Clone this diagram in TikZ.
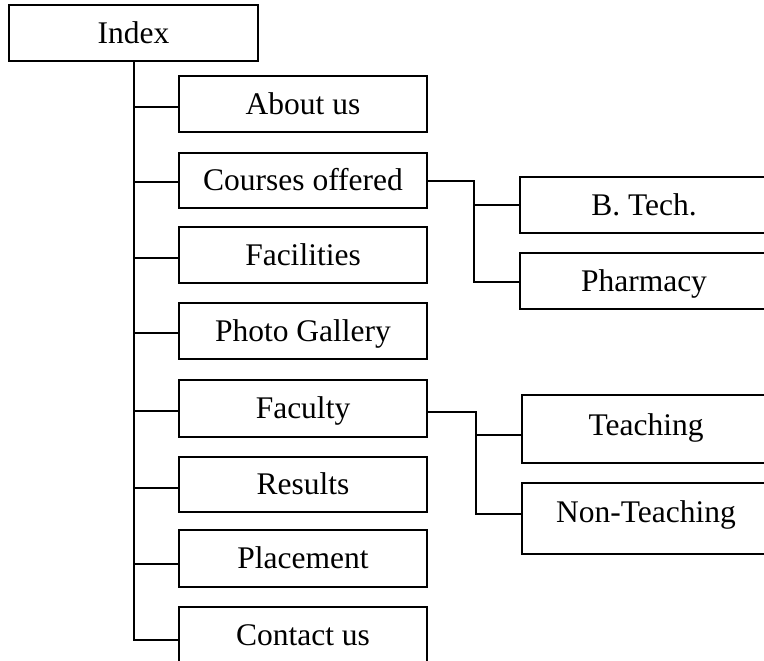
\documentclass[tikz,border=0pt]{standalone}
\usepackage{fontspec}
\setmainfont{Liberation Serif}
\begin{document}
\begin{tikzpicture}[x=1pt,y=-1pt,line width=2pt,
  box/.style={draw,rectangle,minimum width=248pt,minimum height=56pt,inner sep=0pt,
    font=\fontsize{31.5}{36}\selectfont,text height=20.5pt,text depth=0pt},
  link/.style={line width=2pt}]
\useasboundingbox (0,0) rectangle (764,661);
\clip (0,0) rectangle (764,661);
% main nodes
\node[box,minimum width=249pt] (index) at (133.5,33) {Index};
\node[box] (about) at (303,104) {About us};
\node[box,minimum height=55pt] (courses) at (303,180.5) {Courses offered};
\node[box] (facilities) at (303,255) {Facilities};
\node[box] (photo) at (303,331) {Photo Gallery};
\node[box,minimum height=57pt] (faculty) at (303,408.5) {Faculty};
\node[box,minimum height=55pt] (results) at (303,484.5) {Results};
\node[box,minimum height=57pt] (placement) at (303,558.5) {Placement};
\node[box] (contact) at (303,635) {Contact us};
% sub nodes
\node[box] (btech) at (644,205) {B. Tech.};
\node[box] (pharm) at (644,281) {Pharmacy};
\node[box,minimum height=68pt,text depth=8pt] (teach) at (646,429) {Teaching};
\node[box,minimum height=71pt,text depth=13pt] (nonteach) at (646,518.5) {Non-Teaching};
% trunk
\coordinate (ta) at (133.5,107);
\coordinate (tc) at (133.5,182);
\coordinate (tf) at (133.5,258);
\coordinate (tp) at (133.5,333);
\coordinate (tfa) at (133.5,411);
\coordinate (tr) at (133.5,488);
\coordinate (tpl) at (133.5,564);
\coordinate (tbot) at (133.5,640);
\draw[link] (index.south) -- (tbot) -- (tbot -| contact.west);
\draw[link] (ta) -- (ta -| about.west);
\draw[link] (tc) -- (tc -| courses.west);
\draw[link] (tf) -- (tf -| facilities.west);
\draw[link] (tp) -- (tp -| photo.west);
\draw[link] (tfa) -- (tfa -| faculty.west);
\draw[link] (tr) -- (tr -| results.west);
\draw[link] (tpl) -- (tpl -| placement.west);
% courses branch
\coordinate (cbr) at (474,181);
\coordinate (cbp) at (474,282);
\draw[link] (courses.east |- cbr) -- (cbr) -- (cbp) -- (cbp -| pharm.west);
\draw[link] (cbr |- btech.west) -- (btech.west);
% faculty branch
\coordinate (fbr) at (476,412);
\coordinate (fbt) at (476,435);
\coordinate (fbn) at (476,514);
\draw[link] (faculty.east |- fbr) -- (fbr) -- (fbn) -- (fbn -| nonteach.west);
\draw[link] (fbt) -- (fbt -| teach.west);
\end{tikzpicture}
\end{document}
